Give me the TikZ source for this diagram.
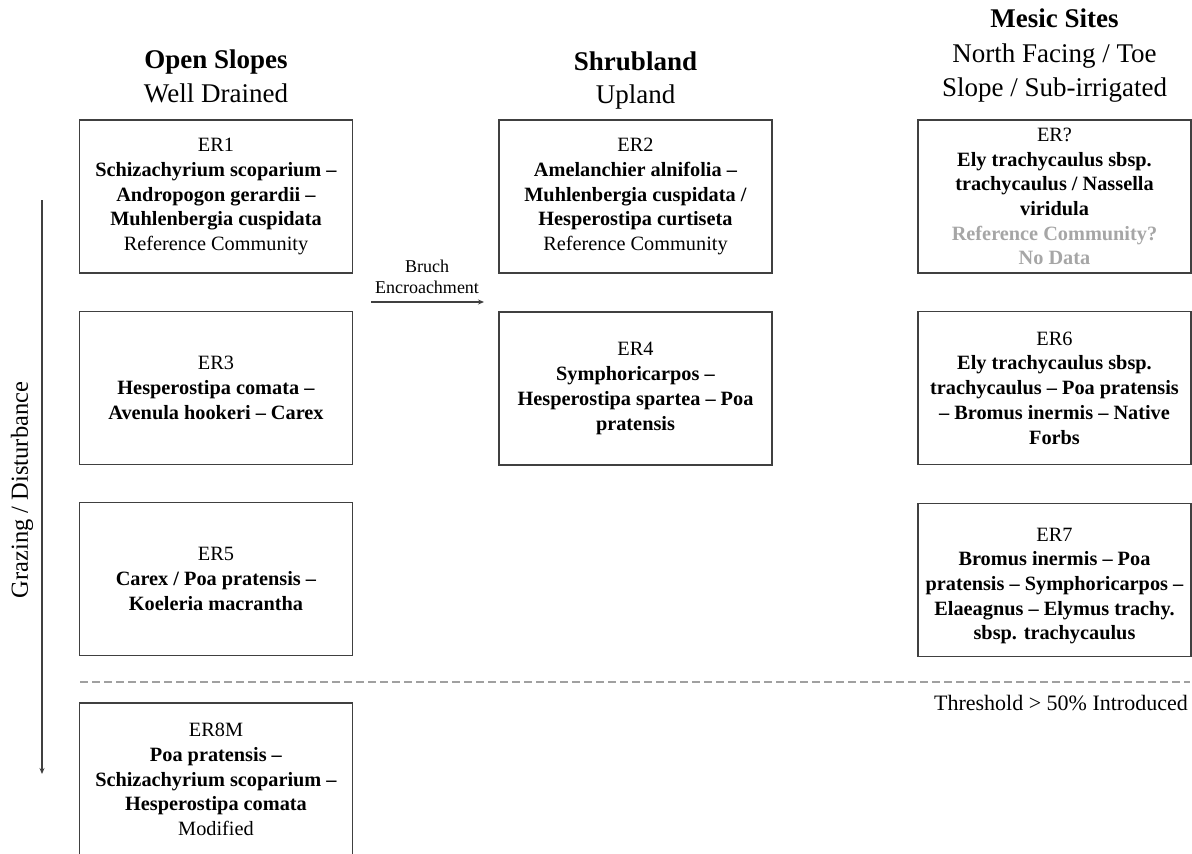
\documentclass[tikz,border=0pt]{standalone}
\usepackage{fontspec}
\setmainfont{Liberation Serif}
\usetikzlibrary{arrows.meta}
\definecolor{boxline}{RGB}{64,64,64}
\definecolor{greytxt}{RGB}{166,166,166}
\definecolor{dashgrey}{RGB}{160,160,160}
\begin{document}
\begin{tikzpicture}[x=1pt,y=-1pt,
  erbox/.style={draw=boxline, line width=1.2pt, minimum width=273pt, minimum height=153pt,
    inner sep=0pt, align=center, font=\fontsize{20.3}{24.7}\selectfont},
  ertext/.style={inner sep=0pt, align=center, font=\fontsize{20.3}{24.7}\selectfont},
  hdb/.style={anchor=base, inner sep=0pt, font=\fontsize{27}{34}\selectfont\bfseries},
  hdr/.style={anchor=base, inner sep=0pt, font=\fontsize{27}{34}\selectfont},
  flow/.style={draw=boxline, line width=1.2pt, -{Stealth[length=6pt,width=5pt]}},
  grey/.style={text=greytxt}
]
\useasboundingbox (0,0) rectangle (1192,854);

% headings
\node[hdb] (h1a) at (216,68) {Open Slopes};
\node[hdr] (h1b) at (216,102) {Well Drained};
\node[hdb] (h2a) at (635.5,70) {Shrubland};
\node[hdr] (h2b) at (635.5,103) {Upland};
\node[hdb] (h3a) at (1054.5,27) {Mesic Sites};
\node[hdr] (h3b) at (1054.5,62) {North Facing / Toe};
\node[hdr] (h3c) at (1054.5,96) {Slope / Sub-irrigated};

% boxes
\node[erbox] (er1) at (216,196.5) {ER1\\\textbf{Schizachyrium scoparium --}\\\textbf{Andropogon gerardii --}\\\textbf{Muhlenbergia cuspidata}\\Reference Community};
\node[erbox] (er2) at (635.5,196.5) {ER2\\\textbf{Amelanchier alnifolia --}\\\textbf{Muhlenbergia cuspidata /}\\\textbf{Hesperostipa curtiseta}\\Reference Community};
\node[erbox] (erq) at (1054.5,196.5) {ER?\\\textbf{Ely trachycaulus sbsp.}\\\textbf{trachycaulus / Nassella}\\\textbf{viridula}\\\textcolor{greytxt}{\textbf{Reference Community?}}\\\textcolor{greytxt}{\textbf{No Data}}};

\node[erbox] (er3) at (216,388) {ER3\\\textbf{Hesperostipa comata --}\\\textbf{Avenula hookeri -- Carex}};
\node[erbox] (er4) at (635.5,388.5) {ER4\\\textbf{Symphoricarpos --}\\\textbf{Hesperostipa spartea -- Poa}\\\textbf{pratensis}};
\node[erbox] (er6) at (1054.5,388) {ER6\\\textbf{Ely trachycaulus sbsp.}\\\textbf{trachycaulus -- Poa pratensis}\\\textbf{-- Bromus inermis -- Native}\\\textbf{Forbs}};

\node[erbox] (er5) at (216,579) {ER5\\\textbf{Carex / Poa pratensis --}\\\textbf{Koeleria macrantha}};
\node[erbox] (er7) at (1054.5,580) {};
\node[ertext] (er7t) at ([yshift=-6pt]er7.center) {ER7\\\textbf{Bromus inermis -- Poa}\\\textbf{pratensis -- Symphoricarpos --}\\\textbf{Elaeagnus -- Elymus trachy.}\\\textbf{sbsp. trachycaulus}};

\node[erbox] (er8) at (216,779.5) {ER8M\\\textbf{Poa pratensis --}\\\textbf{Schizachyrium scoparium --}\\\textbf{Hesperostipa comata}\\Modified};

% threshold
\coordinate (thl) at (80,682);
\coordinate (thr) at (1190,682);
\draw[dashgrey, line width=1.2pt, dash pattern=on 8pt off 4pt] (thl) -- (thr);
\node[anchor=east, inner sep=0pt, font=\fontsize{22}{26}\selectfont] (thtext) at (1188,703) {Threshold > 50\% Introduced};

% brush encroachment arrow
\coordinate (bs) at (371,302);
\coordinate (be) at (484,302);
\draw[flow] (bs) -- (be);
\node[align=center, inner sep=0pt, font=\fontsize{18}{20.5}\selectfont] (btext) at (427,277) {Bruch\\Encroachment};

% grazing arrow
\coordinate (gs) at (42,200);
\coordinate (ge) at (42,774);
\draw[flow] (gs) -- (ge);
\node[rotate=90, inner sep=0pt, font=\fontsize{24.5}{28}\selectfont] (gtext) at (22,490) {Grazing / Disturbance};
\end{tikzpicture}
\end{document}
